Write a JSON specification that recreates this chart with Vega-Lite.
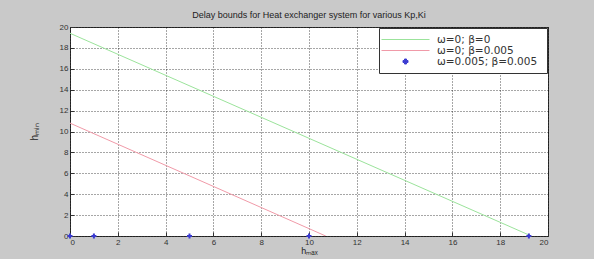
{
  "$schema": "https://vega.github.io/schema/vega-lite/v6.json",
  "width": 478,
  "height": 209,
  "autosize": {"type": "none"},
  "padding": {"left": 70, "top": 27, "right": 46, "bottom": 23},
  "background": "#c9c9c9",
  "title": {"text": "Delay bounds for Heat exchanger system for various Kp,Ki", "fontSize": 9, "fontWeight": "normal", "font": "Liberation Sans", "color": "#222222", "offset": 3},
  "config": {
    "view": {"stroke": "#333333", "strokeWidth": 1, "fill": "white"},
    "axis": {
      "labelFont": "Liberation Sans", "labelFontSize": 8, "labelColor": "#333333",
      "titleFont": "Liberation Sans", "titleFontSize": 9, "titleFontWeight": "normal", "titleColor": "#222222",
      "grid": true, "gridColor": "#000000", "gridDash": [1, 2], "gridOpacity": 0.7, "gridWidth": 1,
      "domain": false, "tickSize": -4, "tickColor": "#333333", "labelPadding": 6
    }
  },
  "datasets": {
    "lines": [
      {"series": "ω=0; β=0", "x": 0, "y": 19.4},
      {"series": "ω=0; β=0", "x": 19.3, "y": 0},
      {"series": "ω=0; β=0.005", "x": 0, "y": 10.8},
      {"series": "ω=0; β=0.005", "x": 10.7, "y": 0}
    ],
    "points": [
      {"series": "ω=0.005; β=0.005", "x": 0, "y": 0},
      {"series": "ω=0.005; β=0.005", "x": 1, "y": 0},
      {"series": "ω=0.005; β=0.005", "x": 5, "y": 0},
      {"series": "ω=0.005; β=0.005", "x": 10, "y": 0},
      {"series": "ω=0.005; β=0.005", "x": 19.2, "y": 0}
    ]
  },
  "encoding": {
    "x": {"field": "x", "type": "quantitative", "scale": {"domain": [0, 20], "nice": false, "zero": false},
      "axis": {"values": [0, 2, 4, 6, 8, 10, 12, 14, 16, 18, 20], "title": "hₘₐₓ", "titlePadding": 0}},
    "y": {"field": "y", "type": "quantitative", "scale": {"domain": [0, 20], "nice": false},
      "axis": {"values": [0, 2, 4, 6, 8, 10, 12, 14, 16, 18, 20], "title": "hₘᵢₙ", "titlePadding": 20, "titleFontSize": 10}},
    "color": {"field": "series", "type": "nominal",
      "scale": {"domain": ["ω=0; β=0", "ω=0; β=0.005", "ω=0.005; β=0.005"], "range": ["#9be39b", "#f09aa8", "#3a3ad0"]},
      "legend": {
        "title": null, "orient": "top-right", "offset": 1,
        "fillColor": "white", "strokeColor": "#333333", "padding": 6,
        "labelFont": "DejaVu Sans", "labelFontSize": 10.5, "labelColor": "#333333",
        "labelExpr": "replace(datum.label, '; ', ';  ')",
        "symbolType": "stroke", "symbolSize": 100, "symbolStrokeWidth": 1, "rowPadding": 0,
        "symbolOffset": 15, "labelOffset": 26,
        "encode": {
          "symbols": {"update": {
            "shape": {"signal": "datum.value === 'ω=0.005; β=0.005' ? 'cross' : 'M-4.8,0L4.8,0'"},
            "size": {"signal": "datum.value === 'ω=0.005; β=0.005' ? 25 : 100"},
            "fill": {"signal": "datum.value === 'ω=0.005; β=0.005' ? '#3a3ad0' : 'transparent'"}
          }}
        }
      }}
  },
  "layer": [
    {"data": {"name": "lines"}, "mark": {"type": "line", "strokeWidth": 1, "clip": true}},
    {"data": {"name": "points"}, "mark": {"type": "point", "shape": "cross", "filled": true, "size": 25, "opacity": 1, "clip": false}}
  ]
}
